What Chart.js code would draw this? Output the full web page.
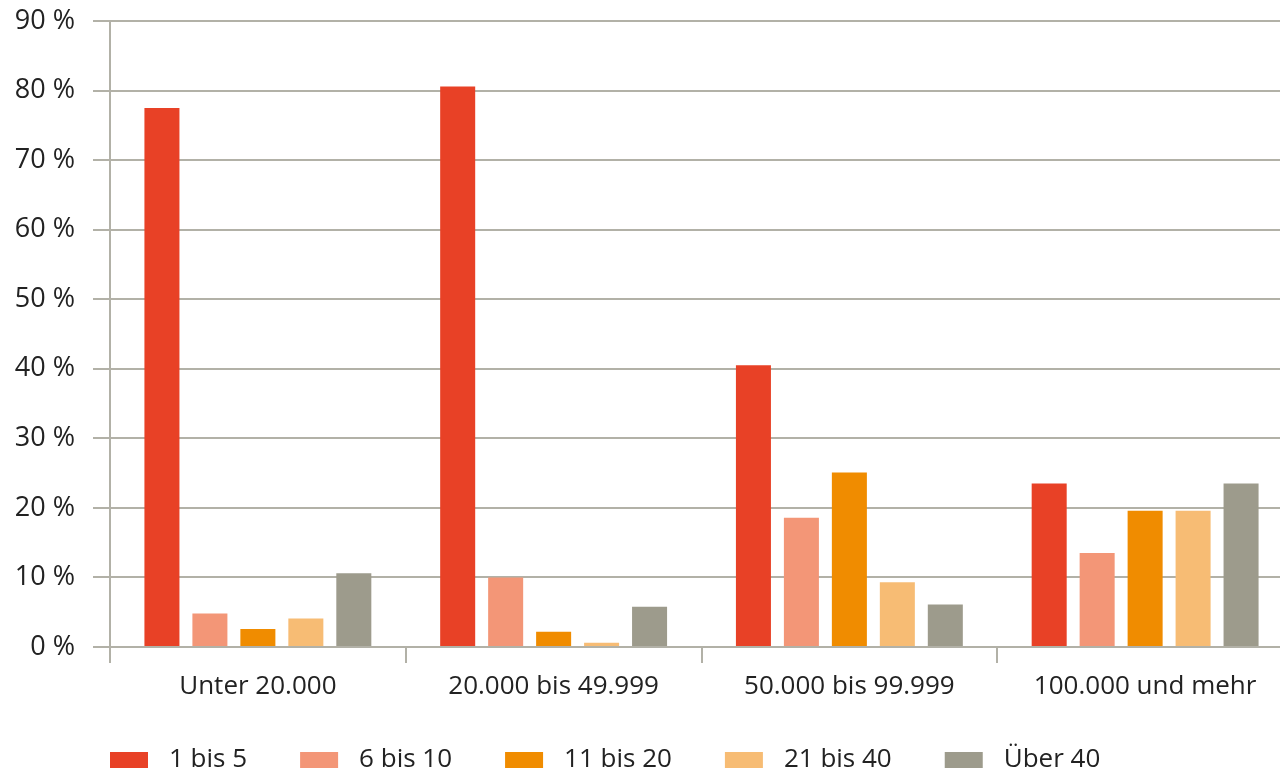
<!DOCTYPE html>
<html>
<head>
<meta charset="utf-8">
<script src="https://cdn.jsdelivr.net/npm/chart.js@4/dist/chart.umd.min.js"></script>
<style>
html,body{margin:0;padding:0;background:#fff;overflow:hidden;}
#wrap{width:1293px;height:771px;}
</style>
</head>
<body>
<div id="wrap"><canvas id="c" width="1293" height="771"></canvas></div>
<script>
const categories = ["Unter 20.000", "20.000 bis 49.999", "50.000 bis 99.999", "100.000 und mehr"];
const seriesNames = ["1 bis 5", "6 bis 10", "11 bis 20", "21 bis 40", "Über 40"];
const s1bis5   = [77.5, 80.6, 40.5, 23.5];
const s6bis10  = [4.8, 10.0, 18.6, 13.5];
const s11bis20 = [2.6, 2.2, 25.1, 19.6];
const s21bis40 = [4.1, 0.6, 9.3, 19.6];
const sUeber40 = [10.6, 5.8, 6.1, 23.5];
const yTicks = [0, 10, 20, 30, 40, 50, 60, 70, 80, 90];
const colors = ["#e84126", "#f39677", "#f08c00", "#f7bc74", "#9d9b8c"];

const FONT = "'Open Sans', 'Noto Sans', sans-serif";
const TEXT = "#222222";
const GRID = "#b2b1a7";

const legendPlugin = {
  id: 'customLegend',
  afterDraw(chart) {
    const ctx = chart.ctx;
    ctx.save();
    ctx.font = "26px " + FONT;
    ctx.textBaseline = 'middle';
    ctx.textAlign = 'left';
    let x = 110;
    const yMid = 760;
    chart.data.datasets.forEach(ds => {
      ctx.fillStyle = ds.backgroundColor;
      ctx.fillRect(x, yMid - 8, 38, 16);
      x += 38 + 21;
      ctx.fillStyle = TEXT;
      ctx.fillText(ds.label, x, yMid);
      x += ctx.measureText(ds.label).width + 53;
    });
    ctx.restore();
  }
};

const datasetsSrc = [s1bis5, s6bis10, s11bis20, s21bis40, sUeber40];

new Chart(document.getElementById('c'), {
  type: 'bar',
  data: {
    labels: categories,
    datasets: datasetsSrc.map((d, i) => ({
      label: seriesNames[i],
      data: d,
      backgroundColor: colors[i],
      borderWidth: 0,
      categoryPercentage: 0.811,
      barPercentage: 0.73
    }))
  },
  options: {
    responsive: false,
    animation: false,
    devicePixelRatio: 1,
    layout: { padding: { left: 0, right: 0, top: 21, bottom: 0 } },
    plugins: {
      legend: { display: false },
      tooltip: { enabled: false }
    },
    scales: {
      x: {
        grid: {
          offset: true,
          drawOnChartArea: false,
          drawTicks: true,
          tickLength: 16,
          color: GRID,
          lineWidth: 2
        },
        border: { display: true, color: GRID, width: 2 },
        ticks: {
          color: TEXT,
          font: { family: FONT, size: 26 },
          padding: 8,
          maxRotation: 0
        },
        afterFit: s => { s.height = 124; s.paddingLeft = 0; s.paddingRight = 0; }
      },
      y: {
        min: 0,
        max: 90,
        afterBuildTicks: s => { s.ticks = yTicks.map(v => ({ value: v })); },
        grid: {
          drawTicks: true,
          tickLength: 17,
          color: GRID,
          lineWidth: 2
        },
        border: { display: true, color: GRID, width: 2 },
        ticks: {
          color: TEXT,
          font: { family: FONT, size: 27 },
          padding: 18,
          callback: v => v + ' %'
        },
        afterFit: s => { s.width = 110; s.paddingTop = 0; s.paddingBottom = 0; }
      }
    }
  },
  plugins: [legendPlugin]
});
</script>
</body>
</html>
